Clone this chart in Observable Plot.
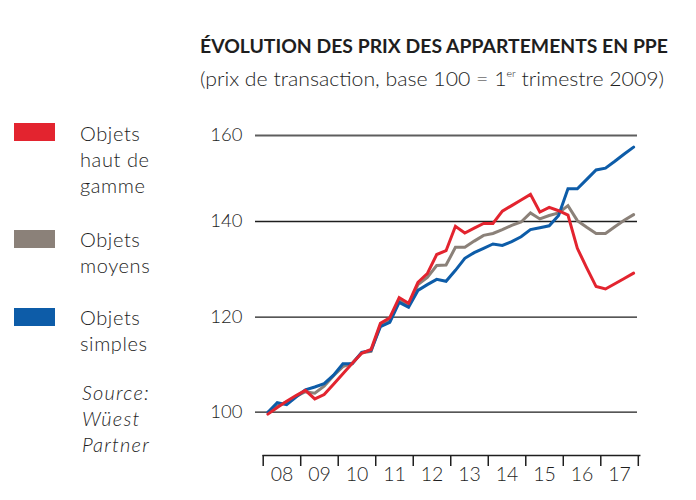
<!DOCTYPE html>
<html><head><meta charset="utf-8">
<script src="https://cdn.jsdelivr.net/npm/d3@7"></script>
<script src="https://cdn.jsdelivr.net/npm/@observablehq/plot@0.6"></script>
<style>
body{margin:0;background:#fff;}
#wrap{position:relative;width:696px;height:500px;font-family:Lato,"Open Sans",sans-serif;color:#1e1e1e;overflow:hidden;}
#wrap svg{position:absolute;left:0;top:0;}
.abs{position:absolute;white-space:nowrap;}
.leg{position:absolute;left:80px;font-size:20px;line-height:26px;font-weight:300;letter-spacing:0.6px;}
.sw{position:absolute;left:14px;width:41px;height:18px;}
</style></head><body>
<div id="wrap"></div>
<script>
// Data: quarterly index values, 2008 T1 .. 2017 T4
const years = [2008, 2009, 2010, 2011, 2012, 2013, 2014, 2015, 2016, 2017];
const yearLabels = ["08", "09", "10", "11", "12", "13", "14", "15", "16", "17"];
const yTicks = [100, 120, 140, 160];

const hautDeGamme = [99.6, 101.0, 102.3, 103.5, 104.6, 102.8, 103.7, 105.9, 108.1, 110.3,
  112.4, 113.2, 118.7, 119.9, 124.1, 122.9, 127.3, 129.1, 133.1, 133.9,
  139.0, 137.6, 138.6, 139.6, 139.6, 142.4, 143.7, 145.0, 146.3, 142.2,
  143.3, 142.5, 141.5, 134.4, 130.3, 126.4, 125.9, 127.0, 128.1, 129.2];
const moyens = [100.0, 101.3, 102.2, 103.3, 104.3, 104.0, 105.5, 107.7, 109.6, 110.3,
  112.5, 112.8, 118.4, 119.2, 123.5, 122.5, 126.8, 128.3, 130.8, 130.9,
  134.6, 134.6, 135.9, 137.1, 137.5, 138.3, 139.2, 139.9, 142.0, 140.6,
  141.4, 142.0, 143.7, 140.2, 138.8, 137.5, 137.5, 138.9, 140.3, 141.6];
const simples = [100.0, 102.0, 101.6, 103.2, 104.7, 105.3, 106.0, 107.8, 110.2, 110.2,
  112.6, 113.0, 118.0, 118.9, 123.1, 122.1, 125.6, 126.8, 127.9, 127.5,
  129.8, 132.3, 133.5, 134.4, 135.3, 135.0, 135.8, 136.8, 138.3, 138.7,
  139.1, 141.4, 147.6, 147.6, 149.8, 152.0, 152.4, 154.0, 155.7, 157.3];

const series = [
  {name: "Objets moyens", values: moyens, color: "#8b8179"},
  {name: "Objets simples", values: simples, color: "#0d5ca8"},
  {name: "Objets haut de gamme", values: hautDeGamme, color: "#e3242f"}
];

// quarter list (year, quarter) built from the years array
const quarters = years.flatMap(y => [1, 2, 3, 4].map(q => ({year: y, q})));
const rows = series.flatMap(s => s.values.map((v, i) => ({
  serie: s.name, color: s.color,
  t: quarters[i].year + (quarters[i].q - 0.5) / 4,
  value: v
})));

const fontFamily = 'Lato, "Open Sans", sans-serif';

// the reference's gridlines are not evenly spaced: reproduce with a piecewise transform
const gridGaps = d3.scaleLinear().domain(yTicks).range([0, 95, 190.7, 276.7]);

const chart = Plot.plot({
  width: 696,
  height: 500,
  marginLeft: 255,
  marginRight: 59,
  marginBottom: 45,
  marginTop: 20,
  style: {fontFamily, background: "transparent", color: "#1e1e1e"},
  x: {domain: [years[0], years[years.length - 1] + 1], range: [262.7, 637.8]},
  y: {transform: v => gridGaps(v), domain: [0, 276.7], range: [411.7, 135]},
  marks: [
    Plot.ruleY(yTicks.slice(0, 3), {stroke: "#1e1e1e", strokeWidth: 1.3}),
    Plot.ruleY(yTicks.slice(3), {stroke: "#5e5e5e", strokeWidth: 2}),
    Plot.frame({anchor: "bottom", stroke: "#1e1e1e", strokeWidth: 1.5, insetLeft: 7.7, insetRight: -2.2}),
    Plot.axisX([...years, years[years.length - 1] + 1], {
      tickSize: 11, tickFormat: () => "", stroke: "#1e1e1e", strokeWidth: 1.5, label: null
    }),
    Plot.axisX(years.map(y => y + 0.5), {
      tickSize: 0, tickPadding: 12, label: null, fontSize: 19.5, fontWeight: 300,
      tickFormat: d => yearLabels[years.indexOf(Math.floor(d))]
    }),
    Plot.axisY(yTicks, {tickSize: 0, tickPadding: 13, label: null, fontSize: 18.5, fontWeight: 300, tickFormat: d => String(d)}),
    ...series.map(s => Plot.line(rows.filter(r => r.serie === s.name), {
      x: "t", y: "value", stroke: s.color, strokeWidth: 3, strokeLinejoin: "miter", strokeMiterlimit: 3
    }))
  ]
});

const wrap = document.getElementById("wrap");
wrap.appendChild(chart);

function addText(html, left, top, size, weight, targetWidth, extra = "") {
  const d = document.createElement("div");
  d.className = "abs";
  d.style.cssText = `left:${left}px;top:${top}px;font-size:${size}px;line-height:1;font-weight:${weight};transform-origin:0 0;${extra}`;
  d.innerHTML = html;
  wrap.appendChild(d);
  if (targetWidth) {
    const w = d.getBoundingClientRect().width;
    d.style.transform = `scaleX(${targetWidth / w})`;
  }
  return d;
}
addText("ÉVOLUTION DES PRIX DES APPARTEMENTS EN PPE", 200, 35.5, 19.5, 700, 468);
addText('(prix de transaction, base 100 = 1<sup style="font-size:0.5em;vertical-align:0;position:relative;top:-0.9em">er</sup> trimestre 2009)', 200, 68.5, 19.5, 300, 464);

const legend = [
  {lines: ["Objets", "haut de", "gamme"], color: "#e3242f", top: 120.2, sw: 123.3},
  {lines: ["Objets", "moyens"], color: "#8b8179", top: 225.6, sw: 229.8},
  {lines: ["Objets", "simples"], color: "#0d5ca8", top: 304.2, sw: 308.3}
];
legend.forEach(l => {
  const s = document.createElement("div");
  s.className = "sw"; s.style.top = l.sw + "px"; s.style.background = l.color;
  wrap.appendChild(s);
  const t = document.createElement("div");
  t.className = "leg"; t.style.top = l.top + "px";
  t.innerHTML = l.lines.join("<br>");
  wrap.appendChild(t);
});
const src = document.createElement("div");
src.className = "leg"; src.style.top = "379.2px"; src.style.left = "82px"; src.style.fontStyle = "italic"; src.style.letterSpacing = "1.2px";
src.innerHTML = "Source:<br>Wüest<br>Partner";
wrap.appendChild(src);
</script>
</body></html>
